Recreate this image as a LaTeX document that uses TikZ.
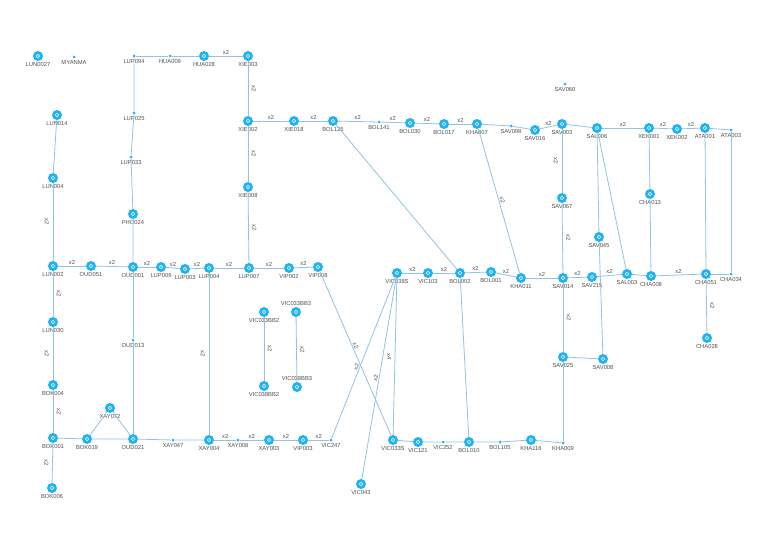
\documentclass[tikz,border=0pt]{standalone}
\usepackage{fontspec}
\setmainfont{Liberation Sans}
\definecolor{nodeblue}{HTML}{1FB2F7}
\definecolor{edgeblue}{HTML}{93C4DE}
\definecolor{labgrey}{HTML}{505050}

\begin{document}
\begin{tikzpicture}[x=1pt, y=-1pt,
  big/.style={circle, fill=nodeblue, minimum size=10pt, inner sep=0pt,
    path picture={\draw[white, line width=0.45pt] (path picture bounding box.center) circle (1.7pt);}},
  dot/.style={circle, fill=nodeblue, minimum size=3pt, inner sep=0pt},
  lab/.style={font=\fontsize{5.8}{6}\selectfont, text=labgrey, inner sep=0.5pt},
  every label/.style={lab},
  label distance=1pt,
  link/.style={edgeblue, line width=0.8pt},
  hx/.style={lab, midway, above=0.8pt},
  vr/.style={lab, midway, xshift=6pt, rotate=-90},
  vl/.style={lab, midway, xshift=-6pt, rotate=-90},
  sl/.style={lab, midway, sloped, above=0.5pt}]

% Canvas
\useasboundingbox (0,0) rectangle (768,543);
\fill[white] (0,0) rectangle (768,543);

% --- Isolated stations ---
\node[big, label=below:LUN0027] (LUN0027) at (38,56) {};
\node[dot, label=below:MYANMA] (MYANMA) at (74,57) {};
\node[dot, label=below:SAV060] (SAV060) at (565,84) {};

% --- Left column ---
\node[big, label=below:LUN014] (LUN014) at (57,115) {};
\node[big, label=below:LUN004] (LUN004) at (53,178) {};
\node[big, label=below:LUN002] (LUN002) at (53,266) {};
\node[big, label=below:LUN030] (LUN030) at (53,322) {};
\node[big, label=below:BOK004] (BOK004) at (53,385) {};
\node[big, label=below:BOK001] (BOK001) at (53,438) {};
\node[big, label=below:BOK006] (BOK006) at (52,488) {};

% --- Top row ---
\node[dot, label=below:LUP094] (LUP094) at (134,56) {};
\node[dot, label=below:HUA009] (HUA009) at (170,56) {};
\node[big, label=below:HUA028] (HUA028) at (204,56) {};
\node[big, label=below:XIE003] (XIE003) at (248,56) {};
\node[dot, label=below:LUP025] (LUP025) at (134,113) {};
\node[dot, label=below:LUP033] (LUP033) at (131,157) {};
\node[big, label=below:PHO024] (PHO024) at (133,214) {};

\node[big, label=below:XIE002] (XIE002) at (248,121) {};
\node[big, label=below:XIE018] (XIE018) at (294,121) {};
\node[big, label=below:BOL126] (BOL126) at (333,121) {};
\node[dot, label=below:BOL141] (BOL141) at (379,122) {};
\node[big, label=below:BOL030] (BOL030) at (410,123) {};
\node[big, label=below:BOL017] (BOL017) at (444,124) {};
\node[big, label=below:KHA007] (KHA007) at (477,124) {};
\node[dot, label=below:SAV098] (SAV098) at (511,126) {};
\node[big, label=below:SAV016] (SAV016) at (535,130) {};
\node[big, label=below:SAV003] (SAV003) at (562,124) {};
\node[big, label=below:SAL006] (SAL006) at (597,128) {};
\node[big, label=below:XEK001] (XEK001) at (649,128) {};
\node[big, label=below:XEK002] (XEK002) at (677,129) {};
\node[big, label=below:ATA001] (ATA001) at (705,128) {};
\node[dot, label=below:ATA003] (ATA003) at (731,130) {};
\node[big, label=below:XIE008] (XIE008) at (248,187) {};

% --- Middle row ---
\node[big, label=below:OUD051] (OUD051) at (91,266) {};
\node[big, label=below:OUD001] (OUD001) at (133,267) {};
\node[big, label=below:LUP009] (LUP009) at (161,267) {};
\node[big, label=below:LUP003] (LUP003) at (185,269) {};
\node[big, label=below:LUP004] (LUP004) at (209,268) {};
\node[big, label=below:LUP007] (LUP007) at (249,268) {};
\node[big, label=below:VIP002] (VIP002) at (289,268) {};
\node[big, label=below:VIP008] (VIP008) at (318,267) {};
\node[dot, label=below:OUD013] (OUD013) at (133,340) {};

\node[big, label=below:VIC033BB2] (VIC033BB2) at (264,312) {};
\node[big, label=above:VIC033BB3] (VIC033BB3) at (296,312) {};
\node[big, label=below:VIC038BB2] (VIC038BB2) at (264,386) {};
\node[big, label=above:VIC038BB3] (VIC038BB3) at (297,387) {};

\node[big, label=below:VIC038S] (VIC038S) at (397,273) {};
\node[big, label=below:VIC103] (VIC103) at (428,273) {};
\node[big, label=below:BOL002] (BOL002) at (460,273) {};
\node[big, label=below:BOL001] (BOL001) at (491,272) {};
\node[big, label=below:KHA011] (KHA011) at (521,278) {};
\node[big, label=below:SAV067] (SAV067) at (562,198) {};
\node[big, label=below:SAV014] (SAV014) at (563,278) {};
\node[big, label=below:SAV215] (SAV215) at (592,277) {};
\node[big, label=below:SAV045] (SAV045) at (599,237) {};
\node[big, label=below:SAL003] (SAL003) at (627,274) {};
\node[big, label=below:CHA008] (CHA008) at (651,276) {};
\node[big, label=below:CHA013] (CHA013) at (650,194) {};
\node[big, label=below:CHA051] (CHA051) at (706,274) {};
\node[dot, label=below:CHA034] (CHA034) at (731,274) {};
\node[big, label=below:CHA028] (CHA028) at (707,338) {};
\node[big, label=below:SAV025] (SAV025) at (563,357) {};
\node[big, label=below:SAV008] (SAV008) at (603,359) {};

% --- Bottom row ---
\node[big, label=below:XAY072] (XAY072) at (110,408) {};
\node[big, label=below:BOK019] (BOK019) at (87,439) {};
\node[big, label=below:OUD021] (OUD021) at (133,439) {};
\node[dot, label=below:XAY047] (XAY047) at (173,440) {};
\node[big, label=below:XAY004] (XAY004) at (209,440) {};
\node[dot, label=below:XAY008] (XAY008) at (238,440) {};
\node[big, label=below:XAY003] (XAY003) at (269,440) {};
\node[big, label=below:VIP003] (VIP003) at (303,440) {};
\node[dot, label=below:VIC247] (VIC247) at (331,440) {};
\node[big, label=below:VIC043] (VIC043) at (361,484) {};
\node[big, label=below:VIC033S] (VIC033S) at (393,440) {};
\node[big, label=below:VIC121] (VIC121) at (418,442) {};
\node[dot, label=below:VIC252] (VIC252) at (443,442) {};
\node[big, label=below:BOL010] (BOL010) at (469,442) {};
\node[dot, label=below:BOL105] (BOL105) at (500,442) {};
\node[big, label=below:KHA116] (KHA116) at (531,440) {};
\node[dot, label=below:KHA009] (KHA009) at (563,443) {};

% --- Links ---
\draw[link] (LUN014) -- (LUN004);
\draw[link] (LUN004) -- node[vl] {x2} (LUN002);
\draw[link] (LUN002) -- node[vr] {x2} (LUN030);
\draw[link] (LUN030) -- node[vl] {x2} (BOK004);
\draw[link] (BOK004) -- node[vr] {x2} (BOK001);
\draw[link] (BOK001) -- node[vl] {x2} (BOK006);

\draw[link] (LUP094) -- (HUA009) -- (HUA028);
\draw[link] (HUA028) -- node[hx] {x2} (XIE003);
\draw[link] (LUP094) -- (LUP025) -- (LUP033) -- (PHO024) -- (OUD001);
\draw[link] (XIE003) -- node[vr] {x2} (XIE002);
\draw[link] (XIE002) -- node[vr] {x2} (XIE008);
\draw[link] (XIE008) -- node[vr] {x2} (LUP007);

\draw[link] (XIE002) -- node[hx] {x2} (XIE018);
\draw[link] (XIE018) -- node[hx] {x2} (BOL126);
\draw[link] (BOL126) -- node[hx] {x2} (BOL141);
\draw[link] (BOL141) -- node[hx] {x2} (BOL030);
\draw[link] (BOL030) -- node[hx] {x2} (BOL017);
\draw[link] (BOL017) -- node[hx] {x2} (KHA007);
\draw[link] (KHA007) -- (SAV098) -- (SAV016);
\draw[link] (SAV016) -- node[hx] {x2} (SAV003);
\draw[link] (SAV003) -- (SAL006);
\draw[link] (SAL006) -- node[hx] {x2} (XEK001);
\draw[link] (XEK001) -- node[hx] {x2} (XEK002);
\draw[link] (XEK002) -- node[hx] {x2} (ATA001);
\draw[link] (ATA001) -- (ATA003);

\draw[link] (LUN002) -- node[hx] {x2} (OUD051);
\draw[link] (OUD051) -- node[hx] {x2} (OUD001);
\draw[link] (OUD001) -- node[hx] {x2} (LUP009);
\draw[link] (LUP009) -- node[hx] {x2} (LUP003);
\draw[link] (LUP003) -- node[hx] {x2} (LUP004);
\draw[link] (LUP004) -- node[hx] {x2} (LUP007);
\draw[link] (LUP007) -- node[hx] {x2} (VIP002);
\draw[link] (VIP002) -- node[hx] {x2} (VIP008);
\draw[link] (OUD001) -- (OUD013) -- (OUD021);
\draw[link] (LUP004) -- node[vl] {x2} (XAY004);

\draw[link] (VIC033BB2) -- node[vr] {x2} (VIC038BB2);
\draw[link] (VIC033BB3) -- node[vr] {x2} (VIC038BB3);

\draw[link] (BOK001) -- (BOK019) -- (OUD021) -- (XAY047) -- (XAY004);
\draw[link] (BOK019) -- (XAY072) -- (OUD021);
\draw[link] (XAY004) -- node[hx] {x2} (XAY008);
\draw[link] (XAY008) -- node[hx] {x2} (XAY003);
\draw[link] (XAY003) -- node[hx] {x2} (VIP003);
\draw[link] (VIP003) -- node[hx] {x2} (VIC247);

\draw[link] (VIP008) -- node[sl, pos=0.46] {x2} (VIC033S);
\draw[link] (VIC038S) -- node[sl, pos=0.56] {x2} (VIC247);
\draw[link] (VIC038S) -- node[sl] {x2} (VIC043);
\draw[link] (VIC038S) -- node[vl] {x4} (VIC033S);

\draw[link] (BOL126) -- (BOL002);
\draw[link] (KHA007) -- node[sl] {x2} (KHA011);
\draw[link] (VIC038S) -- node[hx] {x2} (VIC103);
\draw[link] (VIC103) -- node[hx] {x2} (BOL002);
\draw[link] (BOL002) -- node[hx] {x2} (BOL001);
\draw[link] (BOL001) -- node[hx] {x2} (KHA011);
\draw[link] (KHA011) -- node[hx] {x2} (SAV014);
\draw[link] (SAV014) -- node[hx] {x2} (SAV215);
\draw[link] (SAV215) -- node[hx] {x2} (SAL003);
\draw[link] (SAL003) -- (CHA008);
\draw[link] (CHA008) -- node[hx] {x2} (CHA051);
\draw[link] (CHA051) -- (CHA034);
\draw[link] (BOL002) -- (BOL010);

\draw[link] (SAV003) -- node[vl] {x2} (SAV067);
\draw[link] (SAV067) -- node[vr] {x2} (SAV014);
\draw[link] (SAV014) -- node[vr] {x2} (SAV025);
\draw[link] (SAV025) -- (KHA009);
\draw[link] (SAV025) -- (SAV008);
\draw[link] (SAL006) -- (SAV045) -- (SAV008);
\draw[link] (SAL006) -- (SAL003);
\draw[link] (XEK001) -- (CHA013) -- (CHA008);
\draw[link] (ATA001) -- (CHA051);
\draw[link] (ATA003) -- (CHA034);
\draw[link] (CHA051) -- node[vr] {x2} (CHA028);

\draw[link] (VIC033S) -- (VIC121) -- (VIC252) -- (BOL010) -- (BOL105) -- (KHA116) -- (KHA009);

\end{tikzpicture}
\end{document}
